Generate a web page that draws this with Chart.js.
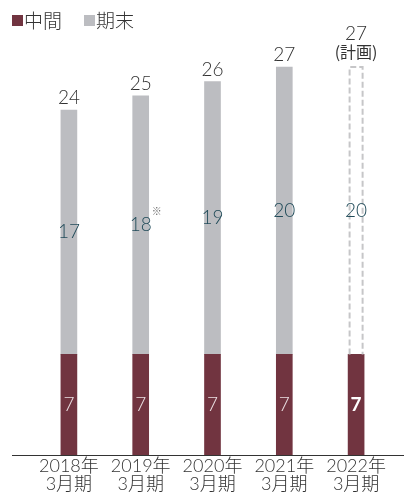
<!DOCTYPE html>
<html lang="ja">
<head>
<meta charset="utf-8">
<script src="https://cdn.jsdelivr.net/npm/chart.js@4.4.1/dist/chart.umd.min.js"></script>
<style>
  html, body { margin: 0; padding: 0; background: #ffffff; }
  #wrap { position: relative; width: 404px; height: 495px; }
  #legend { position: absolute; left: 12px; top: 8px; display: flex; align-items: center;
            font-family: "Noto Sans CJK JP", "Noto Sans", sans-serif; font-weight: 300;
            font-size: 19px; line-height: 24px; color: #333333; white-space: nowrap; }
  #legend .item { display: flex; align-items: center; margin-right: 22px; flex: none; }
  #legend .sw { display: block; flex: none; width: 11px; height: 11px; margin-right: 1px; }
</style>
</head>
<body>
<div id="wrap">
  <canvas id="c"></canvas>
  <div id="legend">
    <div class="item"><span class="sw" style="background:#713440"></span>中間</div>
    <div class="item"><span class="sw" style="background:#bcbdc1"></span>期末</div>
  </div>
</div>
<script>
// Dividend per share (yen): interim and year-end, fiscal years ending March
const years = ['2018年', '2019年', '2020年', '2021年', '2022年'];
const periodSuffix = '3月期';
const interim = [7, 7, 7, 7, 7];
const yearEnd = [17, 18, 19, 20, 20];
const isPlan = [false, false, false, false, true];
const totalNotes = ['', '', '', '', '(計画)'];
const yearEndMarks = ['', '※', '', '', ''];

const categories = years.map(y => [y, periodSuffix]);
const totals = interim.map((v, i) => v + yearEnd[i]);

const FONT = 'Lato, "Noto Sans CJK JP", "Noto Sans", sans-serif';
const CJK = '"Noto Sans CJK JP", "Noto Sans", sans-serif';
const MAROON = '#713440';
const GREY = '#bcbdc1';

// Value labels, plan outline and baseline
const annotate = {
  id: 'annotate',
  afterDatasetsDraw(chart) {
    const ctx = chart.ctx;
    const m0 = chart.getDatasetMeta(0).data;
    const m1 = chart.getDatasetMeta(1).data;
    const area = chart.chartArea;
    ctx.save();

    // dashed outline for planned year-end portion
    m1.forEach((bar, i) => {
      if (!isPlan[i]) return;
      const left = bar.x - bar.width / 2 + 1.5;
      const right = bar.x + bar.width / 2 - 1.5;
      ctx.strokeStyle = '#c6c6c8';
      ctx.lineWidth = 2;
      ctx.setLineDash([6, 3]);
      ctx.beginPath();
      ctx.moveTo(left, bar.base);
      ctx.lineTo(left, bar.y);
      ctx.lineTo(right, bar.y);
      ctx.lineTo(right, bar.base);
      ctx.stroke();
      ctx.setLineDash([]);
    });

    ctx.textAlign = 'center';
    ctx.textBaseline = 'middle';

    // interim values
    m0.forEach((bar, i) => {
      ctx.font = (isPlan[i] ? '700 ' : '300 ') + '19px ' + FONT;
      ctx.fillStyle = isPlan[i] ? '#ffffff' : '#eadfe2';
      ctx.fillText(String(interim[i]), bar.x, (bar.y + bar.base) / 2);
    });

    // year-end values
    m1.forEach((bar, i) => {
      const cy = (bar.y + bar.base) / 2;
      ctx.font = '300 19px ' + FONT;
      ctx.fillStyle = '#1f4a58';
      ctx.fillText(String(yearEnd[i]), bar.x, cy);
      if (yearEndMarks[i]) {
        ctx.font = '400 10px ' + CJK;
        ctx.fillStyle = '#666666';
        ctx.fillText(yearEndMarks[i], bar.x + 16, cy - 14);
      }
    });

    // totals
    m1.forEach((bar, i) => {
      ctx.fillStyle = '#333333';
      if (totalNotes[i]) {
        ctx.font = '400 16px ' + CJK;
        ctx.fillText(totalNotes[i], bar.x, bar.y - 15);
        ctx.font = '300 19px ' + FONT;
        ctx.fillText(String(totals[i]), bar.x, bar.y - 33);
      } else {
        ctx.font = '300 19px ' + FONT;
        ctx.fillText(String(totals[i]), bar.x, bar.y - 12);
      }
    });

    // baseline
    ctx.strokeStyle = '#333333';
    ctx.lineWidth = 1;
    ctx.beginPath();
    ctx.moveTo(12, Math.round(area.bottom) + 0.5);
    ctx.lineTo(chart.width, Math.round(area.bottom) + 0.5);
    ctx.stroke();
    ctx.restore();
  }
};

new Chart(document.getElementById('c'), {
  type: 'bar',
  data: {
    labels: categories,
    datasets: [
      { label: '中間', data: interim, backgroundColor: MAROON, barThickness: 16 },
      { label: '期末', data: yearEnd, barThickness: 16,
        backgroundColor: isPlan.map(p => p ? 'rgba(255,255,255,0)' : GREY) }
    ]
  },
  options: {
    responsive: true,
    maintainAspectRatio: false,
    animation: false,
    layout: { padding: { top: 24, left: 33, right: 12, bottom: 0 } },
    plugins: { legend: { display: false }, tooltip: { enabled: false } },
    scales: {
      x: {
        stacked: true,
        grid: { display: false, drawTicks: false },
        border: { display: false },
        ticks: { color: '#333333', padding: 2, maxRotation: 0,
                 font: { family: FONT, size: 18, weight: 300, lineHeight: 1.0 } }
      },
      y: { stacked: true, display: false, min: 0, max: 30 }
    }
  },
  plugins: [annotate]
});
</script>
</body>
</html>
